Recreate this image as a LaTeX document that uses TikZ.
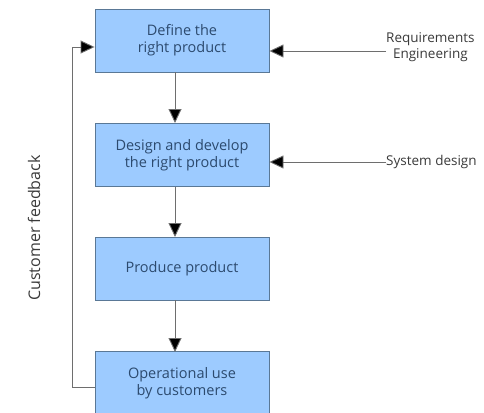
\documentclass[tikz,border=0pt]{standalone}
\usepackage{fontspec}
\setmainfont{Open Sans}
\usetikzlibrary{arrows.meta}
\definecolor{boxfill}{HTML}{9DCBFF}
\definecolor{boxedge}{HTML}{5A7896}
\definecolor{boxtext}{HTML}{2C4A6E}
\definecolor{linegray}{HTML}{6E6E6E}
\definecolor{labeltext}{HTML}{3A3A3A}
\tikzset{
  stage/.style={draw=boxedge, fill=boxfill, line width=0.9pt, minimum width=174pt,
    minimum height=63pt, inner sep=0pt, align=center, text=boxtext,
    font=\fontsize{14.5}{17}\selectfont},
  flow/.style={draw=linegray, line width=0.9pt, -{Triangle[length=14pt,width=13pt,fill=black]}},
  sidelabel/.style={text=labeltext, align=center, font=\fontsize{13.5}{16}\selectfont, inner sep=0pt}
}
\begin{document}
\begin{tikzpicture}[x=1pt,y=-1pt]
  \useasboundingbox (0,0) rectangle (484,412);
  % process stages
  \node[stage] (define)  at (182,40.5)  {Define the\\right product};
  \node[stage] (design)  at (182,155)   {Design and develop\\the right product};
  \node[stage] (produce) at (182,268.5) {Produce product};
  \node[stage] (operate) at (182,383)   {Operational use\\by customers};
  % downward flow
  \draw[flow] (175,72) -- (175,123);
  \draw[flow] (175,187) -- (175,237);
  \draw[flow] (175,300) -- (175,352);
  % side inputs
  \node[sidelabel, anchor=west] (req) at (386,47) {Requirements\\Engineering};
  \node[sidelabel, anchor=west] (sys) at (386,162) {System design};
  \draw[flow] (req.west |- 0,51) -- (define.east |- 0,51);
  \draw[flow] (sys.west) -- (design.east |- sys.west);
  % feedback loop
  \coordinate (fbbottom) at (72,387);
  \coordinate (fbtop) at (72,47);
  \draw[flow] (operate.west |- fbbottom) -- (fbbottom) -- (fbtop) -- (define.west |- fbtop);
  \node[sidelabel, rotate=90, font=\fontsize{16}{19}\selectfont] (fb) at (34,228) {Customer feedback};
\end{tikzpicture}
\end{document}
